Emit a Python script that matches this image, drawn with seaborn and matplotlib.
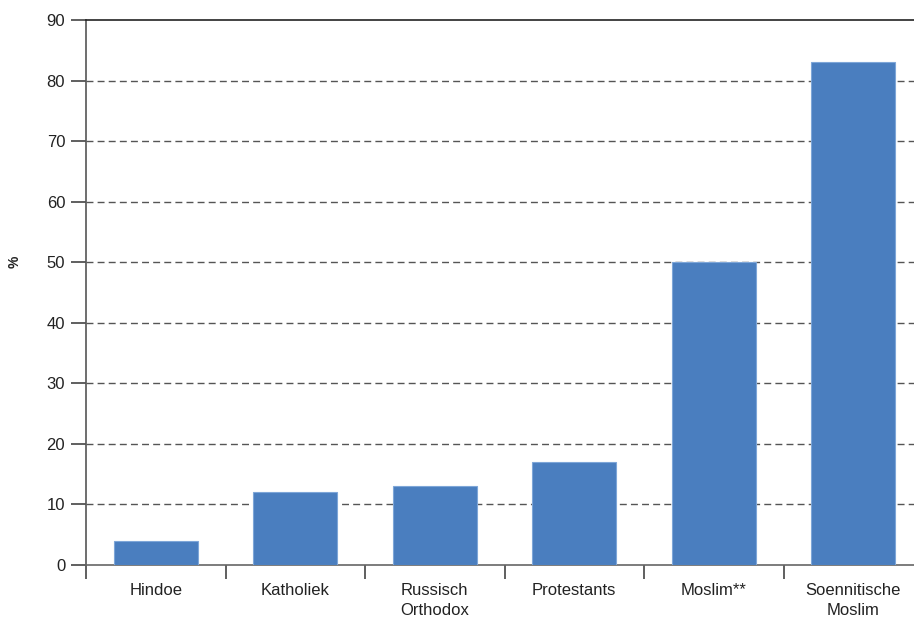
import seaborn as sns
import matplotlib.pyplot as plt
import pandas as pd
from matplotlib.ticker import FixedLocator

# Share per religious group (%)
categories = ["Hindoe", "Katholiek", "Russisch\nOrthodox", "Protestants", "Moslim**", "Soennitische\nMoslim"]
values = [4, 12, 13, 17, 50, 83]
y_ticks = [0, 10, 20, 30, 40, 50, 60, 70, 80, 90]

df = pd.DataFrame({"group": categories, "pct": values})

sns.set_style("white")
plt.rcParams["font.family"] = ["Liberation Sans", "DejaVu Sans"]

fig = plt.figure(figsize=(9.14, 6.19), dpi=100)
ax = fig.add_axes([86 / 914, 54 / 619, 837 / 914, 545 / 619])

sns.barplot(data=df, x="group", y="pct", color="#4a7ebf", width=0.6,
            saturation=1, edgecolor="#7ea6d8", linewidth=0.8, zorder=3, ax=ax)

ax.set_ylim(0, 90)
ax.set_xlim(-0.5, len(categories) - 0.5)
ax.set_yticks(y_ticks)

# dashed gridlines
for y in y_ticks[1:-1]:
    ax.axhline(y, color="#555555", linestyle=(0, (5, 3)), linewidth=1, zorder=1)

ax.spines["right"].set_visible(False)
ax.spines["top"].set_color("#222222")
ax.spines["left"].set_color("#555555")
ax.spines["bottom"].set_color("#666666")
for side in ["top", "left", "bottom"]:
    ax.spines[side].set_linewidth(1.2)

ax.tick_params(axis="y", length=11, width=1.2, color="#444444", labelsize=12,
               labelcolor="#222222", pad=4, left=True)
ax.tick_params(axis="x", which="major", length=0, labelsize=12,
               labelcolor="#222222", pad=13)
for lab in ax.get_xticklabels():
    lab.set_linespacing(1.4)
ax.xaxis.set_minor_locator(FixedLocator([i - 0.5 for i in range(len(categories) + 1)]))
ax.tick_params(axis="x", which="minor", length=10, width=1.2, color="#444444", bottom=True)

ax.set_xlabel("")
ax.set_ylabel("%", fontsize=10, fontweight="bold", color="#222222")
ax.yaxis.set_label_coords(-0.077, 0.556)

fig.savefig("out.png", dpi=100)
